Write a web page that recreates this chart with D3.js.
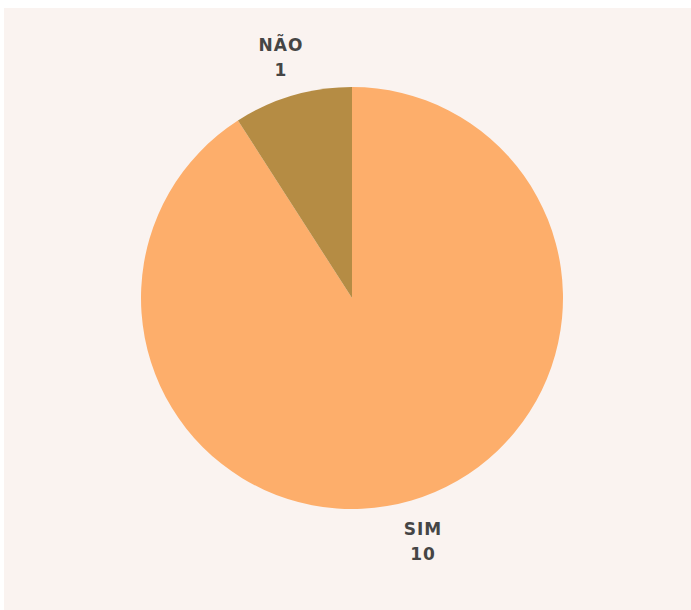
<!DOCTYPE html>
<html>
<head>
<meta charset="utf-8">
<script src="https://cdn.jsdelivr.net/npm/d3@7"></script>
<style>
  html, body { margin: 0; padding: 0; background: #ffffff; }
  svg { display: block; }
</style>
</head>
<body>
<svg id="chart" width="691" height="610"></svg>
<script>
// answers and counts
var labels = ["SIM", "NÃO"],
    counts = [10, 1],
    colors = ["#fdae6b", "#b58c44"];

var data = labels.map((d, i) => ({label: d, value: counts[i], color: colors[i]}));

var svg = d3.select("#chart");

// panel background (thin white band at top and left)
svg.append("rect")
  .attr("x", 4)
  .attr("y", 8)
  .attr("width", 687)
  .attr("height", 602)
  .attr("fill", "#faf3f0");

var cx = 352, cy = 298, r = 211, labelR = 252;

var pie = d3.pie()
  .sort(null)
  .value((d) => d.value);

var arc = d3.arc().innerRadius(0).outerRadius(r);
var labelArc = d3.arc().innerRadius(labelR).outerRadius(labelR);

var g = svg.append("g")
  .attr("transform", "translate(" + cx + "," + cy + ")");

var arcs = pie(data);

g.selectAll("path")
  .data(arcs)
  .enter()
  .append("path")
  .attr("d", arc)
  .attr("fill", (d) => d.data.color);

// two-line labels outside each slice
var lab = g.selectAll("text")
  .data(arcs)
  .enter()
  .append("text")
  .attr("transform", (d) => "translate(" + labelArc.centroid(d) + ")")
  .attr("text-anchor", "middle")
  .attr("font-family", "'DejaVu Sans', sans-serif")
  .attr("font-weight", "bold")
  .attr("font-size", 17)
  .attr("letter-spacing", 1)
  .attr("fill", "#454545");

lab.append("tspan")
  .attr("x", 0)
  .attr("y", -5)
  .text((d) => d.data.label);

lab.append("tspan")
  .attr("x", 0)
  .attr("y", 20)
  .text((d) => d.data.value);
</script>
</body>
</html>
